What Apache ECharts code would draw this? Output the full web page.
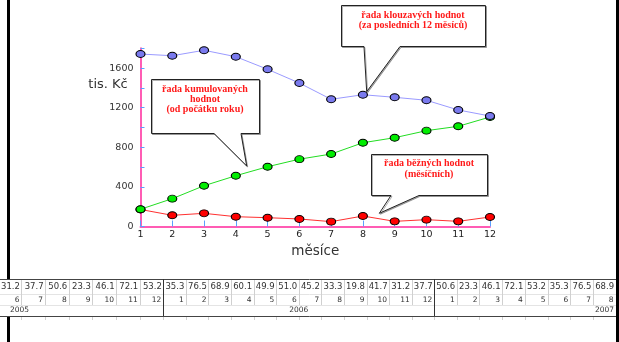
<!DOCTYPE html>
<html>
<head>
<meta charset="utf-8">
<script src="https://cdn.jsdelivr.net/npm/echarts@6/dist/echarts.min.js"></script>
<style>html,body{margin:0;padding:0;background:#fff}#c{width:619px;height:342px}</style>
</head>
<body>
<div id="c"></div>
<script>
// ---- data ----
const months = ['1','2','3','4','5','6','7','8','9','10','11','12'];
const klouzave = [1742, 1725, 1780, 1715, 1588, 1449, 1285, 1331, 1305, 1275, 1177, 1116];
const kumulovane = [174, 281, 412, 513, 604, 680, 732, 846, 897, 968, 1012, 1106];
const bezne = [172, 113, 133, 99, 89, 76, 49, 106, 52, 69, 52, 96];
const yTicks = [0, 400, 800, 1200, 1600];

const tableValues = ['31.2','37.7','50.6','23.3','46.1','72.1','53.2',
  '35.3','76.5','68.9','60.1','49.9','51.0','45.2','33.3','19.8','41.7','31.2','37.7',
  '50.6','23.3','46.1','72.1','53.2','35.3','76.5','68.9'];
const tableMonths = ['6','7','8','9','10','11','12',
  '1','2','3','4','5','6','7','8','9','10','11','12',
  '1','2','3','4','5','6','7','8'];
const tableYears = ['2005','2006','2007'];
const yearCounts = [7, 12, 8];

const calloutTexts = [
  'řada kumulovaných\nhodnot\n(od počátku roku)',
  'řada klouzavých hodnot\n(za posledních 12 měsíců)',
  'řada běžných hodnot\n(měsíčních)'
];

// ---- layout (styling only) ----
const groupStart = [-2.2, 163.3, 434];
const groupWidth = [23.65, 22.58, 22.7];
const tTop = 279, tRow1 = 294, tRow2 = 305, tBot = 316;

const g = [];
g.push({type:'rect', z:0, shape:{x:7, y:0, width:3, height:342}, style:{fill:'#000'}});
g.push({type:'rect', z:1, shape:{x:0, y:tTop, width:619, height:tBot-tTop}, style:{fill:'#fff'}});
g.push({type:'line', z:3, shape:{x1:0, y1:tTop+0.5, x2:619, y2:tTop+0.5}, style:{stroke:'#444', lineWidth:1}});
g.push({type:'line', z:2, shape:{x1:0, y1:tRow1+0.5, x2:619, y2:tRow1+0.5}, style:{stroke:'#e4e4e4', lineWidth:1}});
g.push({type:'line', z:2, shape:{x1:0, y1:tRow2+0.5, x2:619, y2:tRow2+0.5}, style:{stroke:'#e4e4e4', lineWidth:1}});
g.push({type:'line', z:3, shape:{x1:0, y1:tBot+0.5, x2:619, y2:tBot+0.5}, style:{stroke:'#444', lineWidth:1}});

let idx = 0;
tableYears.forEach((yr, gi) => {
  const x0 = groupStart[gi], w = groupWidth[gi], n = yearCounts[gi];
  for (let k = 0; k < n; k++, idx++) {
    const right = x0 + (k + 1) * w;
    const r = Math.round(right) + 0.5;
    if (k < n - 1) {
      g.push({type:'line', z:2, shape:{x1:r, y1:tTop, x2:r, y2:tRow2}, style:{stroke:'#d0d0d0', lineWidth:1}});
    }
    g.push({type:'line', z:2, shape:{x1:r, y1:tBot, x2:r, y2:tBot+4}, style:{stroke:'#d0d0d0', lineWidth:1}});
    g.push({type:'text', z:4, style:{text:tableValues[idx], x:right - 1.5, y:287, align:'right', verticalAlign:'middle', textAlign:'right', textVerticalAlign:'middle',
      fontFamily:'DejaVu Sans', fontSize:8.5, fill:'#333'}});
    g.push({type:'text', z:4, style:{text:tableMonths[idx], x:right - 2, y:300, align:'right', verticalAlign:'middle', textAlign:'right', textVerticalAlign:'middle',
      fontFamily:'DejaVu Sans', fontSize:7.5, fill:'#333'}});
  }
  let tx, al;
  if (gi === 0) { tx = 10; al = 'left'; }
  else if (gi === tableYears.length - 1) { tx = x0 + n * w - 1.5; al = 'right'; }
  else { tx = x0 + n * w / 2; al = 'center'; }
  g.push({type:'text', z:4, style:{text:yr, x:tx, y:310.5, align:al, verticalAlign:'middle', textAlign:al, textVerticalAlign:'middle',
    fontFamily:'DejaVu Sans', fontSize:7.5, fill:'#333'}});
  if (gi > 0) {
    const bx = Math.round(x0) + 0.5;
    g.push({type:'line', z:3, shape:{x1:bx, y1:tTop, x2:bx, y2:tBot}, style:{stroke:'#333', lineWidth:1}});
  }
});
g.push({type:'rect', z:10, shape:{x:616, y:0, width:3, height:342}, style:{fill:'#000'}});

g.push({type:'text', z:5, style:{text:'tis. Kč', x:108, y:85, align:'center', verticalAlign:'middle', textAlign:'center', textVerticalAlign:'middle',
  fontFamily:'DejaVu Sans', fontSize:13, fill:'#333'}});

const boxes = [
  {x1:151, y1:79, x2:259, y2:133, b1:214, b2:241, tx:246.7, ty:166, textY:84},
  {x1:341, y1:5, x2:485, y2:46, b1:364, b2:400, tx:366.7, ty:91.7, textY:10},
  {x1:371, y1:154, x2:487, y2:195, b1:391, b2:419, tx:379.3, ty:213.3, textY:158.5}
];
boxes.forEach((b, i) => {
  g.push({type:'polygon', z:50, shape:{points:[[b.x1+0.5,b.y1+0.5],[b.x2+0.5,b.y1+0.5],[b.x2+0.5,b.y2+0.5],[b.b2,b.y2+0.5],[b.tx,b.ty],[b.b1,b.y2+0.5],[b.x1+0.5,b.y2+0.5]]},
    style:{fill:'#fff', stroke:'#222', lineWidth:1, shadowColor:'rgba(0,0,0,0.3)', shadowOffsetX:1, shadowOffsetY:1, shadowBlur:0}});
  g.push({type:'text', z:51, style:{text:calloutTexts[i], x:(b.x1 + b.x2) / 2, y:b.textY, align:'center', verticalAlign:'top', textAlign:'center', textVerticalAlign:'top',
    fontFamily:'Liberation Serif', fontWeight:'bold', fontSize:10, lineHeight:10.3, fill:'#ff1a1a'}});
});

const chart = echarts.init(document.getElementById('c'), null, {renderer:'canvas'});
chart.setOption({
  animation: false,
  backgroundColor: '#fff',
  grid: {left:140.5, right:129, top:48.3, bottom:115.5, containLabel:false},
  xAxis: {
    type:'category', data: months, boundaryGap:false,
    name:'měsíce', nameLocation:'middle', nameGap:18,
    nameTextStyle:{fontFamily:'DejaVu Sans', fontSize:13.5, color:'#333'},
    axisLine:{lineStyle:{color:'#ff5cb4', width:2}},
    axisTick:{inside:true, length:6, lineStyle:{color:'#5aa0ff', width:1}},
    axisLabel:{fontFamily:'DejaVu Sans', fontSize:9.5, color:'#222', margin:3},
    splitLine:{show:false}
  },
  yAxis: {
    type:'value', min:0, max:1800, interval:200,
    axisLine:{show:true, lineStyle:{color:'#ff5cb4', width:2}},
    axisTick:{show:true, inside:true, length:4, lineStyle:{color:'#5aa0ff', width:1}},
    axisLabel:{fontFamily:'DejaVu Sans', fontSize:9.5, color:'#333', margin:7,
      formatter: v => yTicks.indexOf(v) >= 0 ? String(v) : ''},
    splitLine:{show:false}
  },
  series: [
    {name:'běžné', type:'line', data:bezne, symbol:'circle', symbolSize:[9,7], z:3,
      lineStyle:{color:'#ff3030', width:1}, itemStyle:{color:'#ff0000', borderColor:'#000', borderWidth:1}},
    {name:'kumulované', type:'line', data:kumulovane, symbol:'circle', symbolSize:[9,7], z:4,
      lineStyle:{color:'#22dd22', width:1}, itemStyle:{color:'#00ee00', borderColor:'#000', borderWidth:1}},
    {name:'klouzavé', type:'line', data:klouzave, symbol:'circle', symbolSize:[9,7], z:5,
      lineStyle:{color:'#9a9aff', width:1}, itemStyle:{color:'#7a7aee', borderColor:'#000', borderWidth:1}}
  ],
  graphic: {elements: g}
});
</script>
</body>
</html>
